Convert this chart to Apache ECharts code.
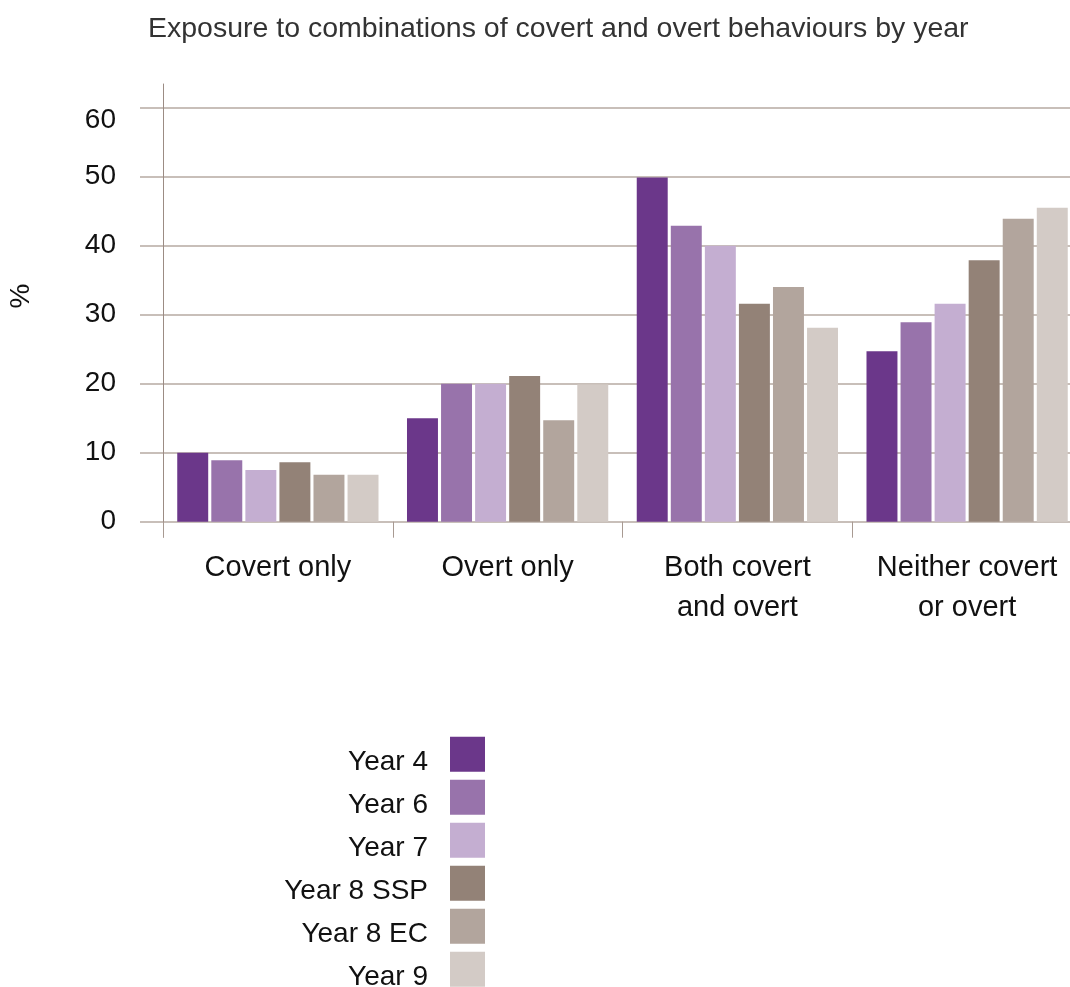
<!DOCTYPE html>
<html>
<head>
<meta charset="utf-8">
<style>
  html, body { margin: 0; padding: 0; background: #ffffff; overflow: hidden; }
  /* the last category runs slightly past the right edge of the window */
  #chart { width: 1082px; height: 1000px; }
</style>
<script src="https://cdn.jsdelivr.net/npm/echarts@6/dist/echarts.min.js"></script>
</head>
<body>
<div id="chart"></div>
<script>
// Share of students (%) exposed to each combination of behaviours, by year group
const categories = ['Covert only', 'Overt only', 'Both covert\nand overt', 'Neither covert\nor overt'];
const seriesNames = ['Year 4', 'Year 6', 'Year 7', 'Year 8 SSP', 'Year 8 EC', 'Year 9'];
const year4    = [10.0, 15.0, 49.9, 24.7];
const year6    = [8.9, 20.0, 42.9, 28.9];
const year7    = [7.5, 20.0, 40.0, 31.6];
const year8ssp = [8.6, 21.1, 31.6, 37.9];
const year8ec  = [6.8, 14.7, 34.0, 43.9];
const year9    = [6.8, 19.9, 28.1, 45.5];
const seriesValues = [year4, year6, year7, year8ssp, year8ec, year9];
const seriesColors = ['#6b378a', '#9873ab', '#c4aed1', '#938277', '#b2a59d', '#d3cbc6'];
const yTicks = { min: 0, max: 60, interval: 10 };

const FONT = '"Liberation Sans", Arial, Helvetica, sans-serif';
const W = 1082, H = 1000;
const plotTop = 107.7, plotBottom = 521.7;

const chart = echarts.init(document.getElementById('chart'), null, { renderer: 'canvas' });

const hiddenX = (gridIndex) => ({
  type: 'value', gridIndex, show: false, min: 0, max: 1
});

const option = {
  animation: false,
  backgroundColor: '#ffffff',
  title: {
    text: 'Exposure to combinations of covert and overt behaviours by year',
    left: 148,
    top: 15,
    padding: 0,
    textStyle: { fontFamily: FONT, fontSize: 28.5, fontWeight: 'normal', color: '#333333' }
  },
  legend: {
    orient: 'vertical',
    align: 'right',
    right: W - 485,
    top: 736.75,
    padding: 0,
    itemWidth: 35,
    itemHeight: 35,
    itemGap: 3.5,
    icon: 'rect',
    data: seriesNames,
    // labels sit slightly low, their baseline level with the swatch bottom
    formatter: (name) => '{t|' + name + '}',
    textStyle: {
      fontFamily: FONT, fontSize: 28, color: '#111111',
      rich: {
        t: {
          fontFamily: FONT, fontSize: 28, color: '#111111',
          padding: [16, 17, 0, 0]
        }
      }
    }
  },
  graphic: [{
    type: 'text',
    x: 21.5,
    y: 296,
    rotation: Math.PI / 2,
    style: {
      text: '%',
      font: '28px ' + FONT,
      fill: '#111111',
      align: 'center',
      verticalAlign: 'middle'
    }
  }],
  grid: [
    // gridlines, extending left of the value axis
    { left: 140, right: 0, top: plotTop, bottom: H - plotBottom },
    // bars
    { left: 163, right: 0, top: plotTop, bottom: H - plotBottom },
    // vertical axis line
    { left: 163, width: 10, top: 84, bottom: H - 537 }
  ],
  xAxis: [
    hiddenX(0),
    {
      type: 'category',
      gridIndex: 1,
      data: categories,
      axisLine: { show: false },
      axisTick: { show: true, length: 16, interval: 0, lineStyle: { color: '#a89a92', width: 1 } },
      axisLabel: {
        interval: 0, margin: 26,
        fontFamily: FONT, fontSize: 29, lineHeight: 40, color: '#111111'
      },
      splitLine: { show: false }
    },
    hiddenX(2)
  ],
  yAxis: [
    {
      type: 'value', gridIndex: 0, ...yTicks,
      axisLine: { show: false }, axisTick: { show: false }, axisLabel: { show: false },
      splitLine: { show: true, lineStyle: { color: '#b6aaa2', width: 1.5 } }
    },
    {
      type: 'value', gridIndex: 1, ...yTicks,
      axisLine: { show: false }, axisTick: { show: false },
      splitLine: { show: false },
      axisLabel: {
        show: true, margin: 47, fontFamily: FONT, fontSize: 28, color: '#111111',
        // the top label sits a little below its gridline
        formatter: (v) => v === yTicks.max ? '{hi|' + v + '}' : '{n|' + v + '}',
        rich: {
          n:  { fontFamily: FONT, fontSize: 28, color: '#111111' },
          hi: { fontFamily: FONT, fontSize: 28, color: '#111111', padding: [25, 0, 0, 0] }
        }
      }
    },
    {
      type: 'value', gridIndex: 2, min: 0, max: 1,
      axisLine: { show: true, lineStyle: { color: '#9c8c84', width: 1 } },
      axisTick: { show: false }, axisLabel: { show: false }, splitLine: { show: false }
    }
  ],
  series: seriesNames.map((name, i) => ({
    name,
    type: 'bar',
    xAxisIndex: 1,
    yAxisIndex: 1,
    data: seriesValues[i],
    itemStyle: { color: seriesColors[i] },
    barGap: '10%',
    barCategoryGap: '12.4%'
  }))
};

chart.setOption(option);
</script>
</body>
</html>
